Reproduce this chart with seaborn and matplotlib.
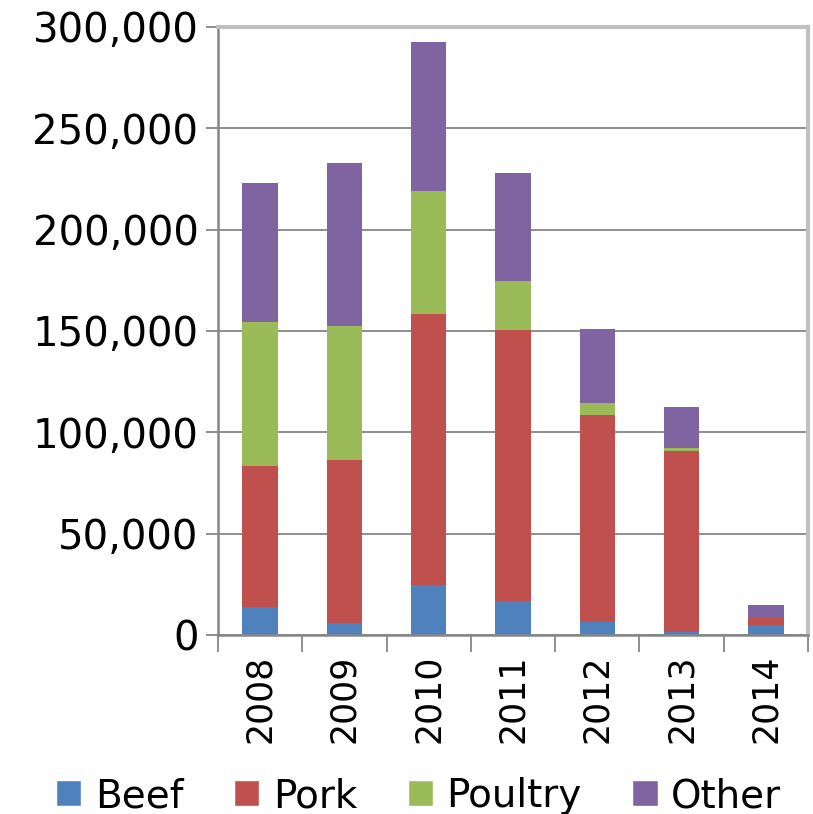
import matplotlib
matplotlib.use("Agg")
import matplotlib.pyplot as plt
import seaborn as sns
import numpy as np
import pandas as pd
from matplotlib.patches import Patch
from matplotlib.ticker import FuncFormatter, FixedLocator

years = ["2008", "2009", "2010", "2011", "2012", "2013", "2014"]
beef = [14000, 5800, 24700, 16800, 6600, 1600, 4900]
pork = [69200, 80700, 133600, 133600, 101900, 89100, 4100]
poultry = [71000, 66000, 60700, 24400, 6100, 1600, 0]
other = [68700, 80500, 73600, 53000, 36300, 20000, 5700]
series_names = ["Beef", "Pork", "Poultry", "Other"]
colors = ["#4F81BD", "#C0504D", "#9BBB59", "#8064A2"]

sns.set_theme(style="white")
plt.rcParams['font.family'] = ['DejaVu Sans']

fig = plt.figure(figsize=(8.13, 8.14), dpi=100)
ax = fig.add_axes([0.268, 0.22, 0.726, 0.747])

stack = np.cumsum(np.array([beef, pork, poultry, other]), axis=0)
df = pd.DataFrame({"year": years})
for i in range(3, -1, -1):
    df["v"] = stack[i]
    sns.barplot(data=df, x="year", y="v", color=colors[i], saturation=1,
                width=0.42, ax=ax, errorbar=None, linewidth=0)

ax.set_ylim(0, 300000)
ax.set_xlim(-0.5, 6.5)
ax.set_yticks(np.arange(0, 300001, 50000))
ax.yaxis.set_major_formatter(FuncFormatter(lambda v, p: f"{int(v):,}"))
ax.yaxis.grid(True, color="#868686", linewidth=1.3)
ax.set_axisbelow(True)
ax.set_xlabel("")
ax.set_ylabel("")
ax.tick_params(axis="y", labelsize=29, length=9, width=1.3, color="#868686",
               left=True, pad=5, labelcolor="black")
ax.tick_params(axis="x", which="major", labelsize=25, length=0, rotation=90, pad=14,
               labelcolor="black")
ax.xaxis.set_minor_locator(FixedLocator(np.arange(-0.5, 7, 1)))
ax.tick_params(axis="x", which="minor", length=12, width=1.3, color="#868686",
               bottom=True)
for s in ["left", "bottom"]:
    ax.spines[s].set_color("#868686")
    ax.spines[s].set_linewidth(1.8)
for s in ["top", "right"]:
    ax.spines[s].set_color("#C0C0C0")
    ax.spines[s].set_linewidth(3)

handles = [Patch(facecolor=c, label=n) for c, n in zip(colors, series_names)]
fig.legend(handles=handles, loc="center", bbox_to_anchor=(0.515, 0.022), ncol=4,
           frameon=False, fontsize=28, handlelength=0.65, handleheight=0.65,
           handletextpad=0.35, columnspacing=1.3, borderpad=0.1, labelcolor="black")

fig.savefig("out.png", dpi=100)
